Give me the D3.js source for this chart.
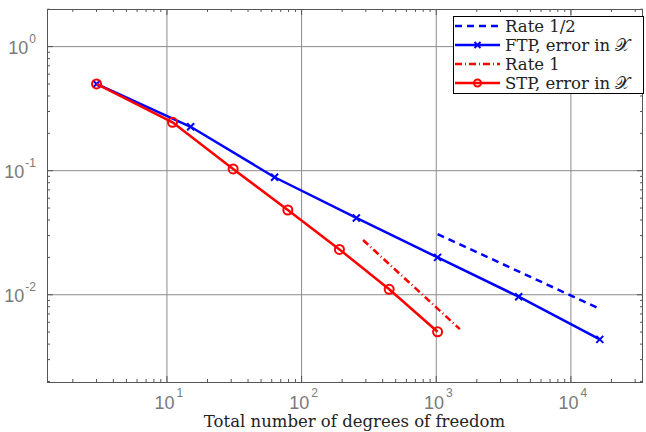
<!DOCTYPE html>
<html>
<head>
<meta charset="utf-8">
<script src="https://cdn.jsdelivr.net/npm/d3@7"></script>
<style>
  body { margin: 0; background: #fff; }
  svg { display: block; }
</style>
</head>
<body>
<script>
// data
var ftpDofs = [3, 15, 63, 255, 1023, 4095, 16383];
var ftpErr  = [0.50, 0.226, 0.0885, 0.0416, 0.0200, 0.00964, 0.00437];
var stpDofs = [3, 11, 31, 79, 191, 447, 1023];
var stpErr  = [0.50, 0.2455, 0.1032, 0.0482, 0.0232, 0.01106, 0.00503];
var rateHalfDofs = [1023, 16383];
var rateHalfErr  = [0.0308, 0.0077];
var rateOneDofs = [286, 1497];
var rateOneErr  = [0.0276, 0.00528];
var xTicks = [10, 100, 1000, 10000];
var yTicks = [1, 0.1, 0.01];
var legendLabels = ['Rate 1/2', 'FTP, error in \u{1D4B3}', 'Rate 1', 'STP, error in \u{1D4B3}'];

var W = 646, H = 432;
var margin = { top: 9, right: 3, bottom: 50, left: 47 };

var x = d3.scaleLog().domain([1.286, 34300]).range([margin.left, W - margin.right]);
var y = d3.scaleLog().domain([0.00198, 2.01]).range([H - margin.bottom, margin.top]);

var svg = d3.select('body').append('svg')
    .attr('width', W)
    .attr('height', H);

var x0 = x.range()[0], x1 = x.range()[1], y0 = y.range()[0], y1 = y.range()[1];

//grid lines
svg.append('g').selectAll('line').data(xTicks).enter().append('line')
    .attr('x1', d => x(d)).attr('x2', d => x(d))
    .attr('y1', y0).attr('y2', y1)
    .attr('stroke', '#8c8c8c').attr('stroke-width', 1);
svg.append('g').selectAll('line').data(yTicks).enter().append('line')
    .attr('y1', d => y(d)).attr('y2', d => y(d))
    .attr('x1', x0).attr('x2', x1)
    .attr('stroke', '#8c8c8c').attr('stroke-width', 1);

//minor ticks, inside, all four sides
var xMinor = [];
[1, 10, 100, 1000, 10000].forEach(function (dec) {
    for (var k = 1; k <= 9; k++) {
        var v = dec * k;
        if (v >= x.domain()[0] && v <= x.domain()[1]) xMinor.push(v);
    }
});
var yMinor = [];
[0.001, 0.01, 0.1, 1].forEach(function (dec) {
    for (var k = 1; k <= 9; k++) {
        var v = dec * k;
        if (v >= y.domain()[0] && v <= y.domain()[1]) yMinor.push(v);
    }
});
var tickLen = 3;
var ticks = svg.append('g').attr('stroke', '#555').attr('stroke-width', 1);
xMinor.forEach(function (v) {
    var len = xTicks.indexOf(v) >= 0 ? 6 : tickLen;
    ticks.append('line').attr('x1', x(v)).attr('x2', x(v)).attr('y1', y0).attr('y2', y0 - len);
    ticks.append('line').attr('x1', x(v)).attr('x2', x(v)).attr('y1', y1).attr('y2', y1 + len);
});
yMinor.forEach(function (v) {
    var len = yTicks.indexOf(v) >= 0 ? 6 : tickLen;
    ticks.append('line').attr('y1', y(v)).attr('y2', y(v)).attr('x1', x0).attr('x2', x0 + len);
    ticks.append('line').attr('y1', y(v)).attr('y2', y(v)).attr('x1', x1).attr('x2', x1 - len);
});

//frame
svg.append('rect')
    .attr('x', x0 + 0.5).attr('y', y1 + 0.5)
    .attr('width', x1 - x0 - 1).attr('height', y0 - y1)
    .attr('fill', 'none').attr('stroke', '#555').attr('stroke-width', 1);

//tick labels
var labelColor = '#7a7a7a';
xTicks.forEach(function (v) {
    var t = svg.append('text')
        .attr('x', x(v) + 2).attr('y', y0 + 27)
        .attr('text-anchor', 'middle')
        .attr('font-family', 'Liberation Sans, Arial, sans-serif')
        .attr('font-size', 18).attr('fill', labelColor);
    t.append('tspan').text('10');
    t.append('tspan').attr('dy', -12).attr('dx', 2).attr('font-size', 12).text(Math.round(Math.log10(v)));
});
yTicks.forEach(function (v) {
    var t = svg.append('text')
        .attr('x', 36).attr('y', y(v) + 7.5)
        .attr('text-anchor', 'end')
        .attr('font-family', 'Liberation Sans, Arial, sans-serif')
        .attr('font-size', 18).attr('fill', labelColor);
    t.append('tspan').text('10');
    t.append('tspan').attr('dy', -11).attr('dx', 1).attr('font-size', 12).text(Math.round(Math.log10(v)));
});

var serif = 'DejaVu Serif, serif';
svg.append('text')
    .attr('x', 354.5).attr('y', 427)
    .attr('text-anchor', 'middle')
    .attr('font-family', serif)
    .attr('font-size', 16.5).attr('fill', '#222')
    .text('Total number of degrees of freedom');

//series
function pts(xs, ys) { return xs.map(function (d, i) { return [d, ys[i]]; }); }
var line = d3.line().x(d => x(d[0])).y(d => y(d[1]));

var blue = '#0000ff', red = '#ff0000';

svg.append('path').datum(pts(rateHalfDofs, rateHalfErr))
    .attr('d', line).attr('fill', 'none').attr('stroke', blue)
    .attr('stroke-width', 2.5).attr('stroke-dasharray', '7,5');
svg.append('path').datum(pts(rateOneDofs, rateOneErr))
    .attr('d', line).attr('fill', 'none').attr('stroke', red)
    .attr('stroke-width', 2.5).attr('stroke-dasharray', '7,3,1,3');

var ftp = pts(ftpDofs, ftpErr);
svg.append('path').datum(ftp)
    .attr('d', line).attr('fill', 'none').attr('stroke', blue).attr('stroke-width', 2.5);
svg.append('g').selectAll('path').data(ftp).enter().append('path')
    .attr('d', 'M-3.5,-3.5L3.5,3.5M-3.5,3.5L3.5,-3.5')
    .attr('transform', d => 'translate(' + x(d[0]) + ',' + y(d[1]) + ')')
    .attr('stroke', blue).attr('stroke-width', 2).attr('fill', 'none');

var stp = pts(stpDofs, stpErr);
svg.append('path').datum(stp)
    .attr('d', line).attr('fill', 'none').attr('stroke', red).attr('stroke-width', 2.5);
svg.append('g').selectAll('circle').data(stp).enter().append('circle')
    .attr('cx', d => x(d[0])).attr('cy', d => y(d[1])).attr('r', 4.5)
    .attr('stroke', red).attr('stroke-width', 2).attr('fill', 'none');

//legend
var lg = svg.append('g');
lg.append('rect')
    .attr('x', 453.5).attr('y', 16.5).attr('width', 190).attr('height', 77)
    .attr('fill', '#fff').attr('stroke', '#000').attr('stroke-width', 1);
var rows = [
    { c: blue, dash: '7,5', mark: null },
    { c: blue, dash: null, mark: 'x' },
    { c: red, dash: '7,3,1,3', mark: null },
    { c: red, dash: null, mark: 'o' }
];
rows.forEach(function (r, i) {
    var yy = 26 + i * 19;
    lg.append('line').attr('x1', 455).attr('x2', 500).attr('y1', yy).attr('y2', yy)
        .attr('stroke', r.c).attr('stroke-width', 2.5)
        .attr('stroke-dasharray', r.dash);
    if (r.mark === 'x') {
        lg.append('path').attr('d', 'M-3,-3L3,3M-3,3L3,-3')
            .attr('transform', 'translate(477.5,' + yy + ')')
            .attr('stroke', r.c).attr('stroke-width', 2);
    }
    if (r.mark === 'o') {
        lg.append('circle').attr('cx', 477.5).attr('cy', yy).attr('r', 3.5)
            .attr('stroke', r.c).attr('stroke-width', 2).attr('fill', 'none');
    }
    lg.append('text').attr('x', 505).attr('y', yy + 5.5)
        .attr('font-family', serif)
        .attr('font-size', 16.5).attr('fill', '#222')
        .text(legendLabels[i]);
});
</script>
</body>
</html>
